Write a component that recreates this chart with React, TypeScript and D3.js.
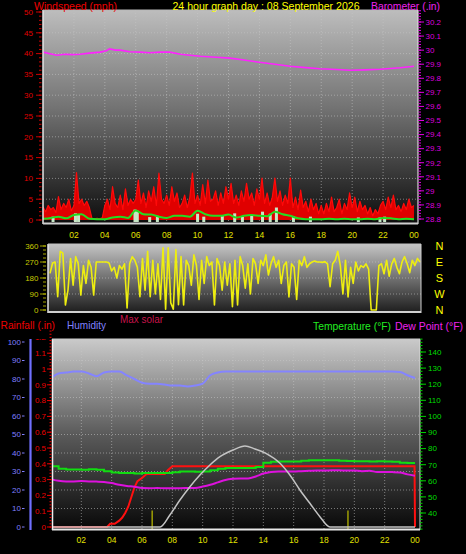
import React from "react";
import * as d3 from "d3";

const W = 466;
const H = 554;
const FONT = "'Liberation Sans', Arial, Helvetica, sans-serif";

// ---------- Top panel: wind speed (mph) & barometer (in) ----------
const gustStepMin = 10;
const windGust = [
  3.2, 2.0, 3.5, 2.5, 3.0, 1.8,
  5.6, 2.5, 4.0, 3.0, 5.0, 2.2,
  3.5, 11.4, 4.0, 5.0, 3.5, 4.5,
  3.0, 0.4, 0.3, 0.4, 0.3, 0.5,
  3.5, 5.0, 2.5, 8.0, 4.0, 3.0,
  6.0, 2.5, 7.5, 3.5, 5.0, 4.0,
  5.0, 9.6, 4.0, 6.5, 3.0, 7.0,
  4.5, 8.0, 3.5, 11.3, 5.0, 4.0,
  6.0, 3.5, 8.0, 4.5, 6.5, 3.0,
  4.0, 6.0, 3.0, 5.5, 11.3, 4.0,
  6.0, 3.5, 8.5, 4.0, 9.6, 4.5,
  5.0, 7.0, 3.5, 6.5, 4.0, 8.0,
  5.0, 8.8, 4.0, 6.0, 3.5, 7.0,
  4.5, 8.8, 5.0, 6.5, 3.5, 7.5,
  5.0, 10.1, 4.0, 6.5, 3.5, 5.5,
  10.1, 4.5, 7.0, 3.5, 6.0, 4.0,
  10.1, 3.0, 5.5, 2.5, 7.2, 3.0,
  4.5, 2.0, 5.0, 2.5, 4.0, 1.5,
  3.5, 1.5, 4.0, 2.0, 5.5, 2.0,
  3.0, 5.0, 1.5, 4.0, 2.5, 6.5,
  3.0, 5.5, 2.0, 4.5, 2.5, 3.5,
  1.5, 3.0, 1.0, 2.5, 1.5, 3.5,
  4.5, 2.5, 5.5, 3.0, 6.0, 2.5,
  3.5, 2.0, 4.0, 2.5, 5.0, 3.0,
  3.5,
];

const avgStepMin = 30;
const windAvg = [
  0.3, 0.5, 0.8, 0.4, 1.2, 1.4, 0.3, 0.2, 0.2, 0.6, 0.8, 0.5,
  2.3, 1.4, 1.3, 0.8, 0.5, 1.0, 1.0, 0.8, 2.2, 1.4, 1.0, 1.0,
  1.3, 0.6, 1.0, 1.2, 1.0, 0.9, 2.0, 1.4, 1.0, 0.4, 0.2, 0.2,
  0.2, 0.3, 0.2, 0.3, 0.2, 0.2, 0.3, 0.2, 0.5, 0.4, 0.2, 0.3,
  0.2,
];

const lullHours = [0.65, 2.1, 2.3, 5.95, 6.1, 6.9, 7.4, 10.0, 10.4, 11.6, 12.4, 12.9, 13.5, 14.2, 14.7, 15.1, 16.2, 17.3, 20.4, 21.8, 22.1];
const lullValues = [0.8, 1.6, 1.4, 2.5, 2.2, 0.7, 1.0, 1.5, 0.8, 1.0, 1.6, 0.8, 1.0, 2.0, 1.5, 3.0, 0.8, 0.8, 0.6, 0.6, 0.8];

const baroHours = [0, 0.45, 0.9, 1.4, 1.9, 2.4, 3.0, 3.7, 4.1, 4.3, 4.7, 5.0, 5.6, 6.3, 6.9, 7.6, 8.2, 8.9, 9.5, 10.2, 11.2, 12.1, 13.0, 14.0, 15.0, 16.0, 17.0, 17.9, 19.0, 19.9, 20.8, 21.8, 23.1, 24];
const baroValues = [29.986, 29.975, 29.964, 29.971, 29.968, 29.971, 29.979, 29.986, 29.996, 30.009, 30.0, 30.0, 29.989, 29.986, 29.982, 29.986, 29.986, 29.971, 29.964, 29.957, 29.95, 29.943, 29.93, 29.914, 29.9, 29.886, 29.876, 29.868, 29.862, 29.857, 29.86, 29.864, 29.875, 29.886];

const windTicks = [0, 5, 10, 15, 20, 25, 30, 35, 40, 45, 50];
const baroTicks = [28.8, 28.9, 29.0, 29.1, 29.2, 29.3, 29.4, 29.5, 29.6, 29.7, 29.8, 29.9, 30.0, 30.1, 30.2];

// ---------- Middle panel: wind direction ----------
const dirStepMin = 10;
const windDir = [
  206, 264, 270, 75, 330, 320, 28, 112, 290, 140,
  300, 260, 84, 250, 150, 280, 240, 84, 270, 270,
  270, 270, 270, 265, 220, 240, 180, 250, 230, 260,
  11, 260, 300, 280, 240, 75, 290, 112, 330, 75,
  280, 90, 260, 60, 350, 5, 350, 40, 5, 340,
  30, 300, 28, 280, 250, 140, 310, 250, 60, 280,
  150, 300, 250, 270, 28, 290, 250, 112, 270, 140,
  260, 19, 280, 28, 300, 250, 123, 260, 90, 290,
  260, 150, 280, 250, 310, 197, 260, 300, 240, 280,
  150, 250, 270, 73, 260, 240, 60, 280, 250, 300,
  240, 260, 270, 275, 270, 270, 268, 272, 260, 131,
  260, 280, 330, 250, 90, 280, 73, 240, 150, 270,
  220, 250, 240, 260, 230, 0, 0, 0, 250, 260,
  204, 280, 190, 260, 290, 240, 204, 270, 300, 260,
  210, 280, 250, 290, 270,
];
const dirTicks = [0, 90, 180, 270, 360];
const compass = ["N", "W", "S", "E", "N"];

// ---------- Bottom panel ----------
const thStepMin = 30;
const humidity = [
  80.5, 83, 83.5, 84, 84, 83, 81.5, 83.5, 84, 84, 82, 80,
  78, 77.5, 77.5, 77, 76.5, 76.5, 76, 76.5, 77.5, 82, 83.5, 84,
  84, 84, 84, 84, 84, 84, 84, 84, 84, 84, 84, 84,
  84, 84, 84, 84, 84, 84, 84, 84, 84, 84, 83.8, 82,
  80.5,
];
const temperature = [
  69.0, 67.5, 67.0, 67.0, 66.8, 67.2, 66.8, 66.0, 65.2, 64.8, 64.8, 64.6,
  64.8, 64.8, 64.8, 64.8, 65.3, 65.8, 65.8, 65.6, 65.8, 66.5, 67.5, 68.0,
  68.0, 68.0, 68.0, 68.5, 71.2, 71.8, 72.0, 72.0, 72.0, 72.5, 72.7, 72.7,
  72.8, 72.7, 72.5, 72.3, 72.2, 72.2, 72.0, 72.2, 72.0, 71.8, 71.2, 71.0,
  71.0,
];
const dewPoint = [
  61.0, 60.0, 59.6, 59.6, 59.8, 59.6, 59.5, 59.3, 58.6, 57.5, 56.8, 56.3,
  55.5, 55.4, 55.5, 55.4, 55.4, 55.4, 55.5, 55.6, 56.4, 57.5, 59.0, 60.5,
  61.2, 61.5, 61.5, 62.7, 64.5, 65.5, 65.8, 65.8, 65.8, 66.0, 66.2, 66.4,
  66.4, 66.5, 66.5, 66.4, 66.4, 66.0, 66.2, 65.5, 65.5, 65.4, 65.2, 64.0,
  63.2,
];
const rainHours = [0, 3.7, 3.9, 4.2, 4.5, 4.7, 4.9, 5.1, 5.3, 5.5, 5.7, 6.0, 6.3, 7.5, 7.7, 8.0, 23.97, 24];
const rainValues = [0, 0, 0.02, 0.02, 0.04, 0.06, 0.09, 0.13, 0.19, 0.25, 0.29, 0.31, 0.335, 0.335, 0.36, 0.385, 0.385, 0];
const solarHours = [0, 7.19, 7.84, 8.5, 9.16, 9.82, 10.48, 11.14, 12.0, 12.79, 13.45, 14.17, 15.1, 15.75, 16.41, 17.07, 17.73, 18.39, 24];
const solarValues = [0, 0, 128, 287, 429, 553, 660, 748, 819, 862, 830, 784, 678, 553, 394, 252, 110, 0, 0];
const sunMarks = [6.67, 19.58];

const humTicks = [0, 10, 20, 30, 40, 50, 60, 70, 80, 90, 100];
const rainTicks = [0, 0.1, 0.2, 0.3, 0.4, 0.5, 0.6, 0.7, 0.8, 0.9, 1.0, 1.1, 1.2];
const tempTicks = [40, 50, 60, 70, 80, 90, 100, 110, 120, 130, 140];
const hourTicks = [2, 4, 6, 8, 10, 12, 14, 16, 18, 20, 22, 24];

const fmtNum = (v: number) => String(+v.toFixed(2));
const fmtHour = (h: number) => String(h % 24).padStart(2, "0");
const timesFor = (arr: number[], stepMin: number) => arr.map((_, i) => (i * stepMin) / 60);

export default function App() {
  // scales
  const xTop = d3.scaleLinear().domain([0, 24]).range([43, 414]);
  const yWind = d3.scaleLinear().domain([0, 50]).range([220, 12]);
  const yBaro = d3.scaleLinear().domain([28.8, 30.2]).range([219, 22]);

  const xMid = d3.scaleLinear().domain([0, 24]).range([50, 420]);
  const yDir = d3.scaleLinear().domain([0, 360]).range([310, 246]);

  const xBot = d3.scaleLinear().domain([0, 24]).range([51, 415]);
  const yHum = d3.scaleLinear().domain([0, 100]).range([527, 342]);
  const yRain = d3.scaleLinear().domain([0, 1]).range([527, 369]);
  const yTemp = d3.scaleLinear().domain([40, 140]).range([513, 352]);
  const ySolar = d3.scaleLinear().domain([0, 2000]).range([527, 339]);

  const gustT = timesFor(windGust, gustStepMin);
  const avgT = timesFor(windAvg, avgStepMin);
  const dirT = timesFor(windDir, dirStepMin);
  const thT = timesFor(humidity, thStepMin);

  const gustArea = d3
    .area<number>()
    .x((_, i) => xTop(gustT[i]))
    .y0(yWind(0))
    .y1((d) => yWind(d))(windGust) as string;
  const gustLine = d3
    .line<number>()
    .x((_, i) => xTop(gustT[i]))
    .y((d) => yWind(d))(windGust) as string;
  const avgLine = d3
    .line<number>()
    .x((_, i) => xTop(avgT[i]))
    .y((d) => yWind(d))
    .curve(d3.curveMonotoneX)(windAvg) as string;
  const baroLine = d3
    .line<number>()
    .x((_, i) => xTop(baroHours[i]))
    .y((d) => yBaro(d))(baroValues) as string;

  const dirLine = d3
    .line<number>()
    .x((_, i) => xMid(dirT[i]))
    .y((d) => yDir(d))(windDir) as string;

  const seriesLine = (vals: number[], times: number[], y: d3.ScaleLinear<number, number>, curve: d3.CurveFactory = d3.curveLinear) =>
    d3
      .line<number>()
      .x((_, i) => xBot(times[i]))
      .y((d) => y(d))
      .curve(curve)(vals) as string;

  const humLine = seriesLine(humidity, thT, yHum, d3.curveMonotoneX);
  const tempLine = seriesLine(temperature, thT, yTemp, d3.curveStepAfter);
  const dewLine = seriesLine(dewPoint, thT, yTemp, d3.curveMonotoneX);
  const rainLine = seriesLine(rainValues, rainHours, yRain);
  const solarLine = seriesLine(solarValues, solarHours, ySolar, d3.curveMonotoneX);

  const windMinor = d3.range(0, 50.01, 1);
  const baroMinor = d3.range(28.8, 30.301, 0.02).filter((v) => yBaro(v) >= 10);
  const dirMinor = d3.range(0, 360.1, 22.5);
  const rainMinor = d3.range(0, 1.2401, 0.02);
  const tempMinor = d3.range(30, 150.1, 2).filter((v) => yTemp(v) >= 339 && yTemp(v) <= 530);

  const gridStyle = { stroke: "#c8c8c8", strokeWidth: 1, strokeDasharray: "1,2", opacity: 0.55 };

  return (
    <svg
      width={W}
      height={H}
      viewBox={`0 0 ${W} ${H}`}
      style={{ position: "absolute", left: 0, top: 0, display: "block" }}
      fontFamily={FONT}
    >
      <defs>
        <linearGradient id="gTop" x1="0" y1="0" x2="0" y2="1">
          <stop offset="0" stopColor="#bdbdbd" />
          <stop offset="0.45" stopColor="#747474" />
          <stop offset="1" stopColor="#0c0c0c" />
        </linearGradient>
        <linearGradient id="gMid" x1="0" y1="0" x2="0" y2="1">
          <stop offset="0" stopColor="#c4c4c4" />
          <stop offset="1" stopColor="#1c1c1c" />
        </linearGradient>
        <linearGradient id="gBot" x1="0" y1="0" x2="0" y2="1">
          <stop offset="0" stopColor="#cacaca" />
          <stop offset="0.5" stopColor="#5a5a5a" />
          <stop offset="1" stopColor="#080808" />
        </linearGradient>
        <clipPath id="cTop">
          <rect x={43} y={10} width={375} height={214} />
        </clipPath>
        <clipPath id="cMid">
          <rect x={48} y={244} width={373} height={69} />
        </clipPath>
        <clipPath id="cBot">
          <rect x={52} y={339} width={368} height={191} />
        </clipPath>
        <clipPath id="cRainLbl">
          <rect x={0} y={339} width={60} height={200} />
        </clipPath>
      </defs>
      <rect x={0} y={0} width={W} height={H} fill="#000" />

      {/* ================= TOP PANEL ================= */}
      <rect x={43} y={10} width={375} height={214} fill="url(#gTop)" />
      {windTicks.slice(1, -1).map((v) => (
        <line key={"wg" + v} x1={43} x2={418} y1={yWind(v)} y2={yWind(v)} {...gridStyle} />
      ))}
      {hourTicks.slice(0, -1).map((h) => (
        <line key={"tg" + h} x1={xTop(h)} x2={xTop(h)} y1={10} y2={223} {...gridStyle} />
      ))}
      <g clipPath="url(#cTop)">
        <path d={gustArea} fill="#e00000" />
        <path d={gustLine} fill="none" stroke="#ff0a0a" strokeWidth={1.2} strokeLinejoin="round" />
        {lullHours.map((h, i) => (
          <rect
            key={"l" + i}
            x={xTop(h) - 1.5}
            y={yWind(lullValues[i])}
            width={3}
            height={222 - yWind(lullValues[i])}
            fill="#c6e8c6"
          />
        ))}
        <path d={avgLine} fill="none" stroke="#22dd22" strokeWidth={2} />
        <path d={baroLine} fill="none" stroke="#ff22ff" strokeWidth={1.6} />
      </g>
      <line x1={43} x2={43} y1={10} y2={224} stroke="#e6e6e6" strokeWidth={1.5} />
      <line x1={43} x2={418} y1={10} y2={10} stroke="#b8b8b8" strokeWidth={1} />
      <line x1={418} x2={418} y1={10} y2={224} stroke="#dcdcdc" strokeWidth={1.2} />
      <line x1={43} x2={418} y1={223.5} y2={223.5} stroke="#cfcfcf" strokeWidth={2} />

      {/* left wind axis */}
      {windMinor.map((v) => (
        <line key={"wm" + v} x1={39} x2={41.5} y1={yWind(v)} y2={yWind(v)} stroke="#cc0000" strokeWidth={1} />
      ))}
      {windTicks.map((v) => (
        <g key={"wt" + v}>
          <line x1={36} x2={41.5} y1={yWind(v)} y2={yWind(v)} stroke="#cc0000" strokeWidth={1} />
          <text x={33} y={yWind(v)} dy="0.35em" textAnchor="end" fontSize={8} fill="#e00000">
            {v}
          </text>
        </g>
      ))}
      {/* right baro axis */}
      {baroMinor.map((v, i) => (
        <line key={"bm" + i} x1={418.5} x2={421} y1={yBaro(v)} y2={yBaro(v)} stroke="#dd00dd" strokeWidth={1} />
      ))}
      {baroTicks.map((v) => (
        <g key={"bt" + v}>
          <line x1={418.5} x2={424} y1={yBaro(v)} y2={yBaro(v)} stroke="#dd00dd" strokeWidth={1} />
          <text x={425.5} y={yBaro(v)} dy="0.35em" fontSize={8} fill="#dd00dd">
            {fmtNum(v)}
          </text>
        </g>
      ))}
      {/* x labels */}
      {hourTicks.map((h) => (
        <text key={"xl" + h} x={xTop(h)} y={235} dy="0.35em" textAnchor="middle" fontSize={8.5} fill="#e2e200">
          {fmtHour(h)}
        </text>
      ))}

      {/* headers */}
      <text x={34} y={10} fontSize={11.5} fill="#ee0000" textLength={83} lengthAdjust="spacingAndGlyphs">
        Windspeed (mph)
      </text>
      <text x={172.5} y={10} fontSize={11} fill="#ffff00" textLength={187} lengthAdjust="spacingAndGlyphs">
        24 hour graph day : 08 September 2026
      </text>
      <text x={371} y={10} fontSize={11.5} fill="#ee22ee" textLength={69} lengthAdjust="spacingAndGlyphs">
        Barometer (.in)
      </text>

      {/* ================= MIDDLE PANEL ================= */}
      <rect x={48} y={244} width={373} height={69} fill="url(#gMid)" />
      {dirTicks.slice(1, -1).map((v) => (
        <line key={"dg" + v} x1={48} x2={421} y1={yDir(v)} y2={yDir(v)} {...gridStyle} />
      ))}
      <g clipPath="url(#cMid)">
        <path d={dirLine} fill="none" stroke="#eeee10" strokeWidth={1.6} strokeLinejoin="round" />
      </g>
      <line x1={48} x2={48} y1={244} y2={313} stroke="#e6e6e6" strokeWidth={1.5} />
      <line x1={48} x2={421} y1={244} y2={244} stroke="#c0c0c0" strokeWidth={1} />
      <line x1={421} x2={421} y1={244} y2={313} stroke="#d0d0d0" strokeWidth={1} />
      <line x1={48} x2={421} y1={312} y2={312} stroke="#cfcfcf" strokeWidth={2} />
      {dirMinor.map((v) => (
        <line key={"dm" + v} x1={43} x2={46} y1={yDir(v)} y2={yDir(v)} stroke="#a8a800" strokeWidth={1} />
      ))}
      {dirTicks.map((v, i) => (
        <g key={"dt" + v}>
          <line x1={40} x2={46} y1={yDir(v)} y2={yDir(v)} stroke="#a8a800" strokeWidth={1} />
          <text x={38.5} y={yDir(v)} dy="0.35em" textAnchor="end" fontSize={8} fill="#c8c800">
            {v}
          </text>
          <text x={439.5} y={yDir(v)} dy="0.36em" textAnchor="middle" fontSize={11} fill="#ffff00">
            {compass[i]}
          </text>
        </g>
      ))}

      {/* ================= BOTTOM PANEL ================= */}
      <text x={0.5} y={329} fontSize={11.5} fill="#ee0000" textLength={54.5} lengthAdjust="spacingAndGlyphs">
        Rainfall (.in)
      </text>
      <text x={67} y={329} fontSize={11.5} fill="#8080ff" textLength={39} lengthAdjust="spacingAndGlyphs">
        Humidity
      </text>
      <text x={120} y={322.5} fontSize={11.5} fill="#c8144b" textLength={43} lengthAdjust="spacingAndGlyphs">
        Max solar
      </text>
      <text x={313} y={329.5} fontSize={10.5} fill="#22ee22" textLength={78} lengthAdjust="spacingAndGlyphs">
        Temperature (°F)
      </text>
      <text x={395} y={329.5} fontSize={10.5} fill="#ee22ee" textLength={68} lengthAdjust="spacingAndGlyphs">
        Dew Point (°F)
      </text>

      <rect x={52} y={339} width={368} height={191} fill="url(#gBot)" />
      {humTicks.slice(1, -1).map((v) => (
        <line key={"hg" + v} x1={52} x2={420} y1={yHum(v)} y2={yHum(v)} {...gridStyle} />
      ))}
      {hourTicks.slice(0, -1).map((h) => (
        <line key={"bg" + h} x1={xBot(h)} x2={xBot(h)} y1={339} y2={529} {...gridStyle} />
      ))}
      <g clipPath="url(#cBot)">
        {sunMarks.map((h) => (
          <line key={"sm" + h} x1={xBot(h)} x2={xBot(h)} y1={510.5} y2={530} stroke="#b4b400" strokeWidth={1.3} />
        ))}
        <path d={rainLine} fill="none" stroke="#ff1010" strokeWidth={2} />
        <path d={dewLine} fill="none" stroke="#dd11dd" strokeWidth={2} />
        <path d={tempLine} fill="none" stroke="#11dd11" strokeWidth={2} />
        <path d={humLine} fill="none" stroke="#8484ff" strokeWidth={2} />
        <path d={solarLine} fill="none" stroke="#c4c4c4" strokeWidth={1.5} />
      </g>
      <line x1={52.5} x2={52.5} y1={339} y2={530} stroke="#f0f0f0" strokeWidth={1.5} />
      <line x1={52} x2={420} y1={339} y2={339} stroke="#c8c8c8" strokeWidth={1} />
      <line x1={420} x2={420} y1={339} y2={530} stroke="#d8d8d8" strokeWidth={1} />
      <line x1={52} x2={420} y1={529.5} y2={529.5} stroke="#e8e8e8" strokeWidth={2} />

      {/* humidity axis */}
      <line x1={30.5} x2={30.5} y1={339} y2={530} stroke="#7070ff" strokeWidth={2.2} />
      {humTicks.map((v) => (
        <g key={"ht" + v}>
          <line x1={22} x2={24.5} y1={yHum(v)} y2={yHum(v)} stroke="#7f7fff" strokeWidth={1} />
          <text x={21} y={yHum(v)} dy="0.35em" textAnchor="end" fontSize={8} fill="#7f7fff">
            {v}
          </text>
        </g>
      ))}
      {/* rain axis */}
      {rainMinor.map((v, i) => (
        <line key={"rm" + i} x1={49.5} x2={51.5} y1={yRain(v)} y2={yRain(v)} stroke="#ee0000" strokeWidth={1} />
      ))}
      <g clipPath="url(#cRainLbl)">
        {rainTicks.map((v) => (
          <g key={"rt" + v}>
            <line x1={47} x2={51.5} y1={yRain(v)} y2={yRain(v)} stroke="#ee0000" strokeWidth={1} />
            <text x={46} y={yRain(v)} dy="0.35em" textAnchor="end" fontSize={8} fill="#ee0000">
              {fmtNum(v)}
            </text>
          </g>
        ))}
      </g>
      {/* temperature axis */}
      {tempMinor.map((v) => (
        <line key={"tm" + v} x1={420} x2={422.5} y1={yTemp(v)} y2={yTemp(v)} stroke="#00cc00" strokeWidth={1} />
      ))}
      {tempTicks.map((v) => (
        <g key={"tt" + v}>
          <line x1={420} x2={426} y1={yTemp(v)} y2={yTemp(v)} stroke="#00cc00" strokeWidth={1} />
          <text x={428} y={yTemp(v)} dy="0.35em" fontSize={8} fill="#00dd00">
            {v}
          </text>
        </g>
      ))}
      {hourTicks.map((h) => (
        <text key={"bx" + h} x={xBot(h)} y={540} dy="0.35em" textAnchor="middle" fontSize={8.5} fill="#e2e200">
          {fmtHour(h)}
        </text>
      ))}
    </svg>
  );
}
